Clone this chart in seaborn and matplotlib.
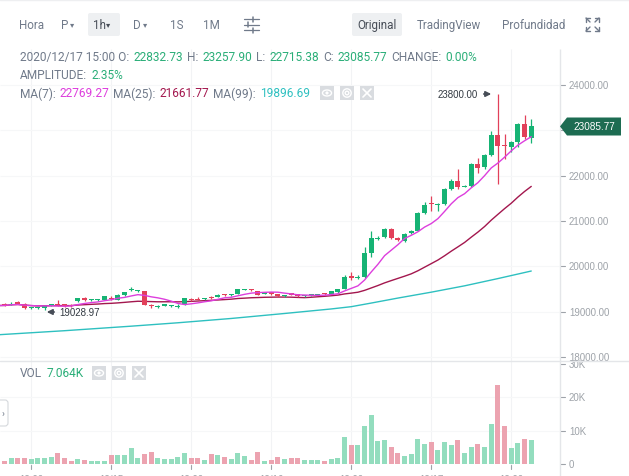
import numpy as np
import pandas as pd
import matplotlib
matplotlib.use("Agg")
import matplotlib.pyplot as plt
import seaborn as sns
from matplotlib.patches import Rectangle, Polygon, FancyBboxPatch, Ellipse, Circle
from matplotlib.lines import Line2D
from matplotlib.transforms import Affine2D

# ---------------- data ----------------
hours = pd.date_range("2020-12-14 07:00", periods=81, freq="h")
opens = [19150, 19170, 19150, 19190, 19165, 19080, 19080, 19085, 19130, 19165,
         19150, 19140, 19225, 19300, 19255, 19260, 19265, 19300, 19265, 19367,
         19470, 19455, 19450, 19140, 19110, 19135, 19120, 19105, 19170, 19280,
         19275, 19270, 19300, 19330, 19370, 19360, 19390, 19480, 19490, 19450,
         19400, 19410, 19390, 19345, 19410, 19390, 19335, 19360, 19375, 19390,
         19390, 19425, 19500, 19790, 19740, 19770, 20300, 20610, 20640, 20825,
         20610, 20560, 20730, 20785, 21180, 21390, 21360, 21375, 21705, 21890,
         21750, 21780, 22257, 22184, 22462, 22897, 22670, 22625, 22750, 23140,
         22832.73]
closes = [19135, 19140, 19180, 19180, 19085, 19085, 19090, 19130, 19165, 19150,
          19135, 19130, 19300, 19255, 19265, 19270, 19340, 19280, 19367, 19425,
          19480, 19465, 19155, 19120, 19120, 19150, 19135, 19125, 19295, 19265,
          19265, 19295, 19295, 19367, 19360, 19370, 19500, 19490, 19480, 19375,
          19410, 19400, 19350, 19355, 19370, 19340, 19345, 19370, 19390, 19380,
          19450, 19490, 19775, 19740, 19760, 20294, 20625, 20630, 20825, 20620,
          20590, 20715, 20785, 21175, 21350, 21370, 21380, 21705, 21890, 21745,
          21775, 22257, 22170, 22462, 22897, 22648, 22648, 22750, 23140, 22846,
          23085.77]
highs = [19180, 19190, 19210, 19230, 19200, 19110, 19110, 19140, 19180, 19260,
         19170, 19160, 19310, 19320, 19280, 19285, 19350, 19350, 19380, 19440,
         19550, 19480, 19460, 19180, 19140, 19165, 19150, 19160, 19305, 19300,
         19320, 19310, 19340, 19380, 19390, 19385, 19510, 19510, 19510, 19465,
         19430, 19425, 19400, 19370, 19420, 19400, 19360, 19390, 19400, 19405,
         19460, 19500, 19800, 19880, 19800, 20420, 20775, 20680, 20850, 20850,
         20640, 20730, 20800, 21190, 21420, 21550, 21400, 21720, 21920, 22147,
         21800, 22280, 22390, 22480, 22990, 23800, 22918, 22770, 23160, 23338,
         23257.90]
lows = [19110, 19120, 19140, 19160, 19060, 19050, 19050, 19028.97, 19120, 19130,
        19110, 19110, 19215, 19240, 19240, 19245, 19255, 19260, 19255, 19350,
        19455, 19440, 19140, 19080, 19090, 19120, 19100, 19080, 19150, 19240,
        19250, 19260, 19285, 19320, 19350, 19345, 19380, 19470, 19465, 19360,
        19380, 19370, 19330, 19320, 19360, 19330, 19320, 19350, 19360, 19370,
        19380, 19415, 19490, 19690, 19720, 19750, 20200, 20580, 20620, 20600,
        20560, 20540, 20720, 20770, 21150, 21220, 21230, 21360, 21690, 21700,
        21740, 21760, 22052, 22150, 22430, 21816, 22368, 22522, 22632, 22800,
        22715.38]
volumes_k = [1.0, 1.0, 1.8, 1.8, 1.7, 1.6, 1.7, 1.9, 2.1, 3.3,
             1.7, 1.0, 1.4, 1.1, 1.0, 1.0, 1.0, 2.7, 2.7, 2.7,
             4.7, 1.7, 3.0, 3.7, 1.9, 1.6, 1.6, 2.2, 3.3, 1.7,
             1.9, 1.2, 3.0, 2.7, 2.1, 1.6, 3.3, 2.4, 1.2, 3.5,
             0.9, 1.2, 2.0, 1.6, 1.7, 1.7, 1.1, 1.1, 1.1, 1.0,
             1.5, 1.8, 8.0, 5.8, 5.8, 11.3, 14.6, 6.8, 7.1, 5.0,
             3.3, 2.4, 3.0, 7.5, 6.0, 6.7, 4.2, 6.5, 5.7, 7.2,
             3.2, 5.0, 6.0, 5.0, 12.0, 23.7, 11.5, 4.8, 6.3, 7.5,
             7.064]
ma99_idx = [0, 10, 20, 27, 35, 43, 50, 53, 56, 60, 65, 70, 75, 80]
ma99_val = [18490, 18580, 18680, 18755, 18850, 18960, 19060, 19110, 19190,
            19300, 19430, 19570, 19730, 19896.69]
price_ticks = [24000, 23000, 22000, 21000, 20000, 19000, 18000]
vol_ticks = [0, 10, 20, 30]
vol_tick_labels = ["0", "10K", "20K", "30K"]
xtick_idx = [5, 17, 29, 41, 53, 65, 77]
xtick_labels = ["12:00", "12/15", "12:00", "12/16", "12:00", "12/17", "12:00"]
last_price = 23085.77

# ---------------- style ----------------
GREEN = "#16B374"
RED = "#E2405A"
VOL_G = "#93DDBE"
VOL_R = "#ECA3B0"
MA7_C = "#DD3EDD"
MA25_C = "#A3174E"
MA99_C = "#2EC0C0"
TXT = "#707A8A"
NUM_G = "#2AAE78"
AX_TXT = "#9EA3A9"
GRID = "#F2F3F5"
LINE = "#E4E6E9"

sns.set_theme(style="white")
plt.rcParams["font.family"] = ["Roboto", "DejaVu Sans"]

W, H = 629, 477
fig = plt.figure(figsize=(W / 100, H / 100), dpi=100)
fig.patch.set_facecolor("white")
PXT = Affine2D().scale(1, -1).translate(0, H)   # pixel (top-left origin) transform

PPX = 6.667      # pixels per hourly candle
X0 = 0.315       # data x at pixel 0


def dx(px):
    return X0 + px / PPX


def py(y):
    return 24000 - (y - 86) * 6000 / 272


def vy(y):
    return (465 - y) * 0.3


idx = np.arange(len(closes))
o = np.array(opens, float)
c = np.array(closes, float)
hi = np.array(highs, float)
lo = np.array(lows, float)
up = c >= o

# ---------------- panels ----------------
axp = fig.add_axes([0, 1 - 362 / H, 1, (362 - 50) / H])
axv = fig.add_axes([0, 0, 1, (477 - 362) / H])

# grid
axp.vlines(xtick_idx, py(362), py(50), color=GRID, lw=0.8, zorder=0)
axp.hlines(price_ticks, dx(0), dx(559), color="#F6F7F8", lw=0.8, zorder=0)
axv.vlines(xtick_idx, vy(466), vy(362), color=GRID, lw=0.8, zorder=0)
axv.hlines([10, 20], dx(0), dx(559), color="#F6F7F8", lw=0.8, zorder=0)

# MA lines
df = pd.DataFrame({"idx": idx, "close": c})
df["ma7"] = df["close"].rolling(7, min_periods=1).mean()
df["ma25"] = df["close"].rolling(25, min_periods=1).mean()
sns.lineplot(data=df, x="idx", y="ma25", color=MA25_C, lw=1.0, estimator=None, ax=axp, zorder=2)
sns.lineplot(x=ma99_idx, y=ma99_val, color=MA99_C, lw=1.0, estimator=None, ax=axp, zorder=2)

# candles
cols = np.where(up, GREEN, RED)
axp.vlines(idx, lo, hi, colors=cols, lw=0.9, zorder=3)
body = np.maximum(np.abs(c - o), 24)
axp.bar(idx, body, bottom=np.minimum(o, c), width=0.74, color=cols, linewidth=0, zorder=4)
sns.lineplot(data=df, x="idx", y="ma7", color=MA7_C, lw=1.0, estimator=None, ax=axp, zorder=5)

# axis line and tick labels (clipped at the panel border)
axp.vlines([dx(559.5)], py(362), py(50), color=LINE, lw=1, zorder=1)
for t in price_ticks:
    axp.plot([dx(561), dx(565)], [t, t], color=AX_TXT, lw=0.8, zorder=1)
    axp.text(dx(569), t, f"{t:.2f}", va="center", ha="left", fontsize=7.0,
             color=AX_TXT, family=["Liberation Sans"], clip_on=True, zorder=1)

# last price tag
ly = 127.5
tag = Polygon([[dx(560), last_price], [dx(567), py(ly - 9)], [dx(621), py(ly - 9)],
               [dx(621), py(ly + 9)], [dx(567), py(ly + 9)]], closed=True,
              facecolor="#1D6C52", edgecolor="none", zorder=10, clip_on=False)
axp.add_patch(tag)
axp.text(dx(594), last_price, f"{last_price:.2f}", ha="center", va="center",
         fontsize=7.2, color="white", family=["Liberation Sans"], zorder=11)

# high / low annotations
axp.text(dx(478), py(95), "23800.00", ha="right", va="center", fontsize=7.0,
         color="#333A42", family=["Liberation Sans"], zorder=6)
axp.annotate("", xy=(dx(494), py(95)), xytext=(dx(481), py(95)),
             arrowprops=dict(arrowstyle="-|>", color="#474D57", lw=1.2, mutation_scale=8), zorder=6)
axp.text(dx(59), py(313), "19028.97", ha="left", va="center", fontsize=7.0,
         color="#333A42", family=["Liberation Sans"], zorder=6)
axp.annotate("", xy=(dx(44), py(313)), xytext=(dx(57), py(313)),
             arrowprops=dict(arrowstyle="-|>", color="#474D57", lw=1.2, mutation_scale=8), zorder=6)

axp.set_xlim(dx(0), dx(W))
axp.set_ylim(py(362), py(50))
axp.axis("off")

# ---------------- volume panel ----------------
dfv = pd.DataFrame({"idx": idx, "vol": volumes_k, "dir": np.where(up, "up", "down")})
sns.barplot(data=dfv, x="idx", y="vol", hue="dir", palette={"up": VOL_G, "down": VOL_R},
            native_scale=True, dodge=False, width=0.74, errorbar=None, legend=False,
            saturation=1, linewidth=0, ax=axv, zorder=3)
axv.vlines([dx(559.5)], vy(477), vy(362), color=LINE, lw=1, zorder=1)
for t, lab in zip(vol_ticks, vol_tick_labels):
    axv.plot([dx(561), dx(565)], [t, t], color=AX_TXT, lw=0.8)
    axv.text(dx(569), t, lab, va="center", ha="left", fontsize=7.0, color=AX_TXT,
             family=["Liberation Sans"])
for xi, lab in zip(xtick_idx, xtick_labels):
    axv.plot([xi, xi], [vy(466), vy(470)], color=AX_TXT, lw=0.8, clip_on=False)
    axv.text(xi, vy(480), lab, ha="center", va="center", fontsize=7.0, color=AX_TXT,
             family=["Liberation Sans"], clip_on=False)
axv.set_xlim(dx(0), dx(W))
axv.set_ylim(vy(477), vy(362))
axv.axis("off")

# separator lines
fig.add_artist(Line2D([0, W], [362, 362], transform=PXT, color=LINE, lw=1))
fig.add_artist(Line2D([0, W], [0.5, 0.5], transform=PXT, color="#EEEFF1", lw=1))

# ---------------- header texts ----------------
renderer = fig.canvas.get_renderer()


def ptext(x, y, s, color=TXT, size=8.4, **kw):
    return fig.text(x, y, s, transform=PXT, color=color, fontsize=size, va="center", **kw)


def seg_text(x, y, parts, size=8.6, gap=4.0):
    for s, col in parts:
        t = ptext(x, y, s, color=col, size=size)
        x += t.get_window_extent(renderer=renderer).width + gap
    return x


# toolbar
fig.add_artist(FancyBboxPatch((88, 14), 32, 23, boxstyle="round,pad=0,rounding_size=2",
                              transform=PXT, facecolor="#EEF0F2", edgecolor="none"))
fig.add_artist(FancyBboxPatch((352, 14), 50, 23, boxstyle="round,pad=0,rounding_size=2",
                              transform=PXT, facecolor="#EEF0F2", edgecolor="none"))
ptext(19, 25.5, "Hora")
ptext(61, 25.5, "P")
ptext(70, 25.5, "▾", size=6)
ptext(93, 25.5, "1h", color="#474D57")
ptext(106, 25.5, "▾", size=6, color="#474D57")
ptext(133, 25.5, "D")
ptext(143, 25.5, "▾", size=6)
ptext(170, 25.5, "1S")
ptext(203, 25.5, "1M")
ptext(357, 25.5, "Original", color="#474D57")
ptext(417, 25.5, "TradingView")
ptext(502, 25.5, "Profundidad")
# filter icon
for yy, xm in [(20, 253), (25.5, 248), (31, 253)]:
    fig.add_artist(Line2D([244, 259], [yy, yy], transform=PXT, color=TXT, lw=0.9))
    fig.add_artist(Line2D([xm, xm], [yy - 2.5, yy + 2.5], transform=PXT, color=TXT, lw=1.1))
# expand icon
for (cx, cy, sx, sy) in [(586, 19, 1, 1), (599, 19, -1, 1), (586, 32, 1, -1), (599, 32, -1, -1)]:
    fig.add_artist(Line2D([cx, cx + 4 * sx], [cy, cy], transform=PXT, color=TXT, lw=1))
    fig.add_artist(Line2D([cx, cx], [cy, cy + 4 * sy], transform=PXT, color=TXT, lw=1))
    fig.add_artist(Line2D([cx, cx + 4 * sx], [cy, cy + 4 * sy], transform=PXT, color=TXT, lw=1))

# info rows
seg_text(20, 58, [("2020/12/17 15:00 O:", TXT), ("22832.73", NUM_G), ("H:", TXT),
                  ("23257.90", NUM_G), ("L:", TXT), ("22715.38", NUM_G), ("C:", TXT),
                  ("23085.77", NUM_G), ("CHANGE:", TXT), ("0.00%", NUM_G)])
seg_text(20, 76, [("AMPLITUDE:", TXT), ("2.35%", NUM_G)])
seg_text(20, 94, [("MA(7):", TXT), ("22769.27", MA7_C), ("MA(25):", TXT),
                  ("21661.77", MA25_C), ("MA(99):", TXT), ("19896.69", MA99_C)])
seg_text(20, 374, [("VOL", TXT), ("7.064K", NUM_G)])


def icons(x, y):
    for k in range(3):
        x0 = x + k * 20
        fig.add_artist(Rectangle((x0, y - 7), 14, 14, transform=PXT, facecolor="#D9DCE0",
                                 edgecolor="none"))
        cx, cy = x0 + 7, y
        if k == 0:
            fig.add_artist(Ellipse((cx, cy), 9, 6, transform=PXT, facecolor="none",
                                   edgecolor="white", lw=1))
            fig.add_artist(Circle((cx, cy), 1.6, transform=PXT, facecolor="white", edgecolor="none"))
        elif k == 1:
            fig.add_artist(Circle((cx, cy), 4.2, transform=PXT, facecolor="none",
                                  edgecolor="white", lw=1))
            fig.add_artist(Circle((cx, cy), 1.8, transform=PXT, facecolor="none",
                                  edgecolor="white", lw=1))
        else:
            fig.add_artist(Line2D([cx - 4, cx + 4], [cy - 4, cy + 4], transform=PXT, color="white", lw=1.2))
            fig.add_artist(Line2D([cx - 4, cx + 4], [cy + 4, cy - 4], transform=PXT, color="white", lw=1.2))


icons(320, 94)
icons(92, 374)

# collapsed side tab
fig.add_artist(FancyBboxPatch((-4, 401), 12, 26, boxstyle="round,pad=0,rounding_size=3",
                              transform=PXT, facecolor="white", edgecolor="#D5D8DC", lw=0.8))
ptext(1.5, 414, "›", size=7, color="#707A8A")

fig.savefig("out.png", dpi=100, facecolor="white")
